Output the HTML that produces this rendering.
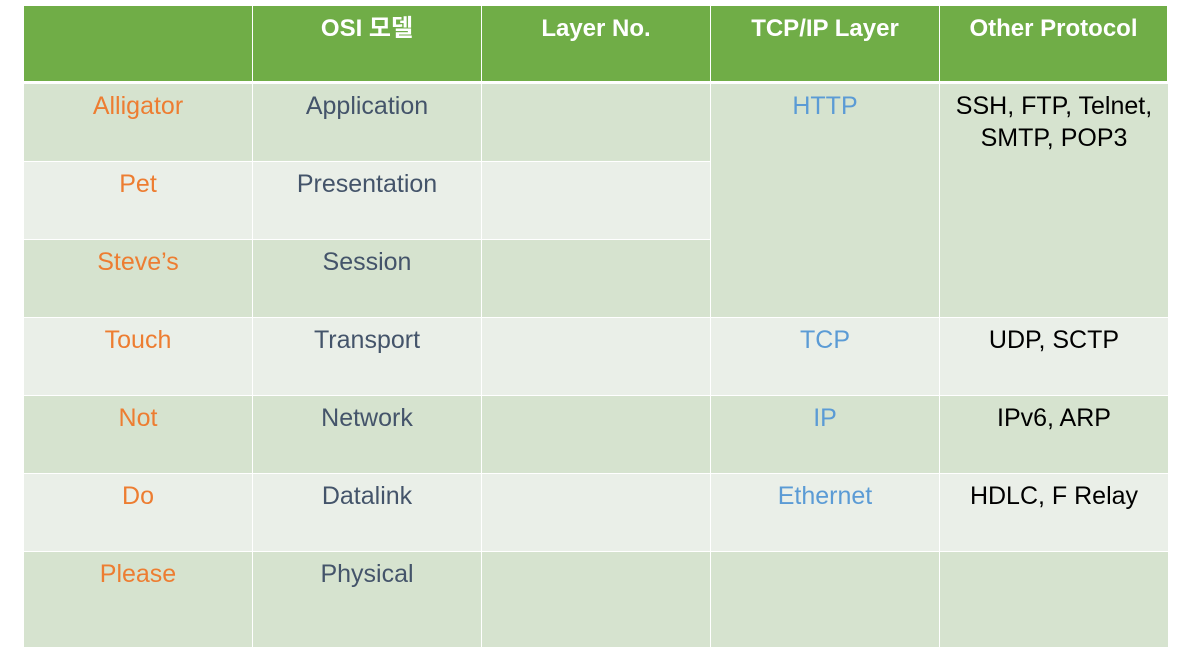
<!DOCTYPE html><html><head><meta charset="utf-8"><style>
body{margin:0;width:1187px;height:660px;background:#fff;position:relative;overflow:hidden;font-family:"Liberation Sans","Noto Sans CJK KR",sans-serif}
.c{position:absolute;box-sizing:border-box;text-align:center;font-size:25px;padding-top:6px;line-height:32px;white-space:nowrap}
.h{background:#70AD47;color:#fff;font-weight:bold;font-size:24px;padding-top:7px}
.d{background:#D6E3CF}.l{background:#EAEFE8}
.o{color:#ED7D31}.s{color:#44546A}.b{color:#5B9BD5}.k{color:#000}
</style></head><body>
<div id="t"></div>
<script>
var xs=[24,253,482,711,940,1168];
var ys=[84,162,240,318,396,474,552,648];
var H=["","OSI 모델","Layer No.","TCP/IP Layer","Other Protocol"];
var out="";
for(var i=0;i<5;i++)out+='<div class="c h" style="left:'+xs[i]+'px;top:6px;width:'+(xs[i+1]-xs[i]-1)+'px;height:75px">'+H[i]+'</div>';
var A=["Alligator","Pet","Steve’s","Touch","Not","Do","Please"];
var O=["Application","Presentation","Session","Transport","Network","Datalink","Physical"];
var T=[null,null,null,"TCP","IP","Ethernet",""];
var P=[null,null,null,"UDP, SCTP","IPv6, ARP","HDLC, F Relay",""];
function cell(x,y,w,h,cls,txt){out+='<div class="c '+cls+'" style="left:'+x+'px;top:'+y+'px;width:'+w+'px;height:'+h+'px">'+txt+'</div>';}
for(var r=0;r<7;r++){
 var bg=(r%2==0)?"d":"l";var y=ys[r],h=ys[r+1]-ys[r]-1;
 cell(xs[0],y,xs[1]-xs[0]-1,h,bg+" o",A[r]);
 cell(xs[1],y,xs[2]-xs[1]-1,h,bg+" s",O[r]);
 cell(xs[2],y,xs[3]-xs[2]-1,h,bg,"");
 if(T[r]!==null){cell(xs[3],y,xs[4]-xs[3]-1,h,bg+" b",T[r]);cell(xs[4],y,xs[5]-xs[4],h,bg+" k",P[r]);}
}
cell(xs[3],84,xs[4]-xs[3]-1,233,"d b","HTTP");
cell(xs[4],84,xs[5]-xs[4],233,"d k","SSH, FTP, Telnet,<br>SMTP, POP3");
document.getElementById("t").innerHTML=out;
</script>
</body></html>
